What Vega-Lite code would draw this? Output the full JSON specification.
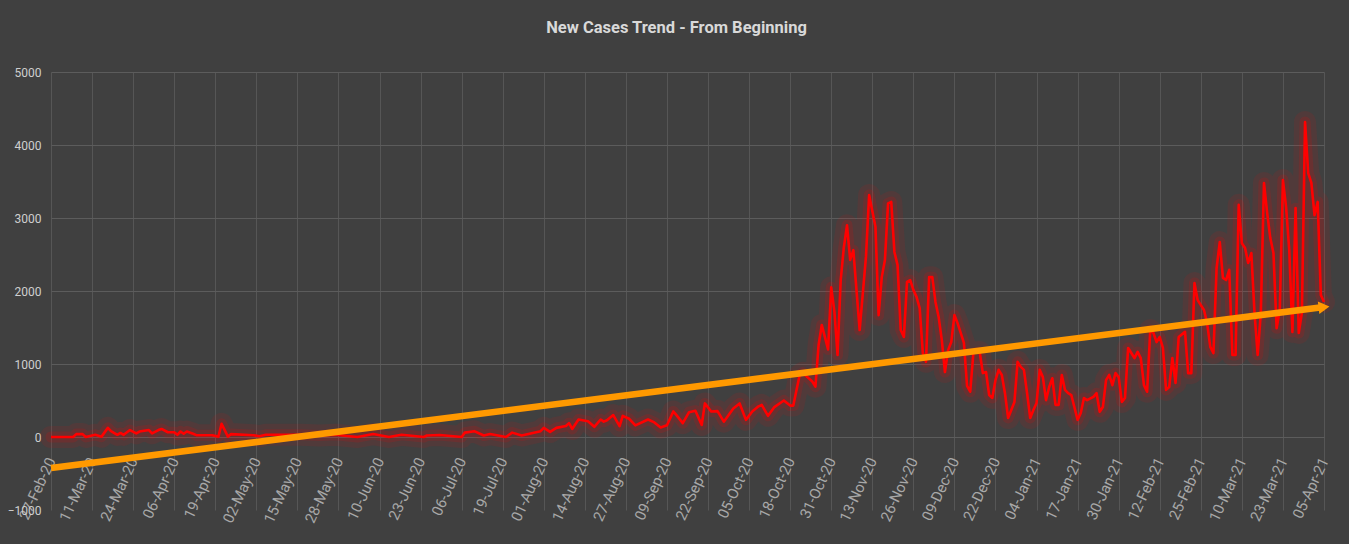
{
  "$schema": "https://vega.github.io/schema/vega-lite/v6.json",
  "width": 1273,
  "height": 438,
  "autosize": "none",
  "padding": {"left": 51, "top": 72, "right": 25, "bottom": 34},
  "background": "#404040",
  "config": {"view": {"stroke": null}},
  "title": {
    "text": "New Cases Trend - From Beginning",
    "font": "Roboto",
    "fontSize": 16.5,
    "fontWeight": "bold",
    "color": "#d9d9d9",
    "anchor": "middle",
    "frame": "group",
    "offset": 30,
    "dx": -11
  },
  "datasets": {
    "cases": [
      {"date": "2020/02/27", "value": 0},
      {"date": "2020/03/05", "value": 0},
      {"date": "2020/03/06", "value": 40},
      {"date": "2020/03/08", "value": 40},
      {"date": "2020/03/09", "value": 0},
      {"date": "2020/03/12", "value": 30},
      {"date": "2020/03/14", "value": 5},
      {"date": "2020/03/16", "value": 125},
      {"date": "2020/03/17", "value": 80},
      {"date": "2020/03/19", "value": 30},
      {"date": "2020/03/20", "value": 55},
      {"date": "2020/03/21", "value": 30},
      {"date": "2020/03/23", "value": 95},
      {"date": "2020/03/25", "value": 50},
      {"date": "2020/03/26", "value": 75},
      {"date": "2020/03/29", "value": 95},
      {"date": "2020/03/30", "value": 50},
      {"date": "2020/04/01", "value": 95},
      {"date": "2020/04/02", "value": 110},
      {"date": "2020/04/04", "value": 65},
      {"date": "2020/04/06", "value": 65},
      {"date": "2020/04/07", "value": 30},
      {"date": "2020/04/08", "value": 75},
      {"date": "2020/04/09", "value": 45},
      {"date": "2020/04/10", "value": 75},
      {"date": "2020/04/12", "value": 45},
      {"date": "2020/04/13", "value": 25},
      {"date": "2020/04/18", "value": 25},
      {"date": "2020/04/20", "value": 5},
      {"date": "2020/04/21", "value": 180},
      {"date": "2020/04/23", "value": 5},
      {"date": "2020/04/24", "value": 40},
      {"date": "2020/05/01", "value": 25},
      {"date": "2020/05/03", "value": 10},
      {"date": "2020/05/05", "value": 30},
      {"date": "2020/05/16", "value": 30},
      {"date": "2020/05/22", "value": 20},
      {"date": "2020/05/27", "value": 30},
      {"date": "2020/06/03", "value": 0},
      {"date": "2020/06/08", "value": 40},
      {"date": "2020/06/13", "value": 0},
      {"date": "2020/06/17", "value": 30},
      {"date": "2020/06/24", "value": 0},
      {"date": "2020/06/25", "value": 20},
      {"date": "2020/06/29", "value": 27},
      {"date": "2020/07/06", "value": 0},
      {"date": "2020/07/07", "value": 60},
      {"date": "2020/07/10", "value": 80},
      {"date": "2020/07/13", "value": 20},
      {"date": "2020/07/15", "value": 40},
      {"date": "2020/07/20", "value": 0},
      {"date": "2020/07/22", "value": 60},
      {"date": "2020/07/25", "value": 20},
      {"date": "2020/07/31", "value": 80},
      {"date": "2020/08/01", "value": 125},
      {"date": "2020/08/03", "value": 70},
      {"date": "2020/08/05", "value": 125},
      {"date": "2020/08/08", "value": 150},
      {"date": "2020/08/09", "value": 190},
      {"date": "2020/08/10", "value": 110},
      {"date": "2020/08/12", "value": 240},
      {"date": "2020/08/15", "value": 215},
      {"date": "2020/08/17", "value": 140},
      {"date": "2020/08/19", "value": 240},
      {"date": "2020/08/20", "value": 210},
      {"date": "2020/08/21", "value": 230},
      {"date": "2020/08/23", "value": 300},
      {"date": "2020/08/25", "value": 150},
      {"date": "2020/08/26", "value": 290},
      {"date": "2020/08/28", "value": 250},
      {"date": "2020/08/30", "value": 160},
      {"date": "2020/09/03", "value": 240},
      {"date": "2020/09/05", "value": 200},
      {"date": "2020/09/07", "value": 130},
      {"date": "2020/09/09", "value": 160},
      {"date": "2020/09/11", "value": 350},
      {"date": "2020/09/12", "value": 300},
      {"date": "2020/09/14", "value": 190},
      {"date": "2020/09/16", "value": 340},
      {"date": "2020/09/18", "value": 360},
      {"date": "2020/09/20", "value": 165},
      {"date": "2020/09/21", "value": 460},
      {"date": "2020/09/23", "value": 350},
      {"date": "2020/09/25", "value": 355},
      {"date": "2020/09/27", "value": 210},
      {"date": "2020/09/30", "value": 390},
      {"date": "2020/10/02", "value": 460},
      {"date": "2020/10/04", "value": 235},
      {"date": "2020/10/06", "value": 350},
      {"date": "2020/10/08", "value": 420},
      {"date": "2020/10/09", "value": 440},
      {"date": "2020/10/11", "value": 290},
      {"date": "2020/10/13", "value": 410},
      {"date": "2020/10/16", "value": 500},
      {"date": "2020/10/18", "value": 430},
      {"date": "2020/10/19", "value": 430},
      {"date": "2020/10/21", "value": 850},
      {"date": "2020/10/22", "value": 880},
      {"date": "2020/10/23", "value": 840},
      {"date": "2020/10/24", "value": 800},
      {"date": "2020/10/25", "value": 760},
      {"date": "2020/10/26", "value": 690},
      {"date": "2020/10/27", "value": 1260},
      {"date": "2020/10/28", "value": 1535},
      {"date": "2020/10/30", "value": 1200},
      {"date": "2020/10/31", "value": 2050},
      {"date": "2020/11/01", "value": 1720},
      {"date": "2020/11/02", "value": 1125},
      {"date": "2020/11/03", "value": 2150},
      {"date": "2020/11/04", "value": 2600},
      {"date": "2020/11/05", "value": 2900},
      {"date": "2020/11/06", "value": 2425},
      {"date": "2020/11/07", "value": 2560},
      {"date": "2020/11/09", "value": 1465},
      {"date": "2020/11/11", "value": 2470},
      {"date": "2020/11/12", "value": 3315},
      {"date": "2020/11/14", "value": 2880},
      {"date": "2020/11/15", "value": 1670},
      {"date": "2020/11/16", "value": 2190},
      {"date": "2020/11/17", "value": 2425},
      {"date": "2020/11/18", "value": 3200},
      {"date": "2020/11/19", "value": 3220},
      {"date": "2020/11/20", "value": 2535},
      {"date": "2020/11/21", "value": 2355},
      {"date": "2020/11/22", "value": 1465},
      {"date": "2020/11/23", "value": 1370},
      {"date": "2020/11/24", "value": 2125},
      {"date": "2020/11/25", "value": 2150},
      {"date": "2020/11/26", "value": 2015},
      {"date": "2020/11/27", "value": 1920},
      {"date": "2020/11/28", "value": 1765},
      {"date": "2020/11/29", "value": 1150},
      {"date": "2020/11/30", "value": 1030},
      {"date": "2020/12/01", "value": 2190},
      {"date": "2020/12/02", "value": 2190},
      {"date": "2020/12/03", "value": 1850},
      {"date": "2020/12/04", "value": 1645},
      {"date": "2020/12/05", "value": 1330},
      {"date": "2020/12/06", "value": 890},
      {"date": "2020/12/07", "value": 1190},
      {"date": "2020/12/08", "value": 1300},
      {"date": "2020/12/09", "value": 1670},
      {"date": "2020/12/10", "value": 1560},
      {"date": "2020/12/12", "value": 1290},
      {"date": "2020/12/13", "value": 700},
      {"date": "2020/12/14", "value": 620},
      {"date": "2020/12/15", "value": 1150},
      {"date": "2020/12/17", "value": 1165},
      {"date": "2020/12/18", "value": 875},
      {"date": "2020/12/19", "value": 890},
      {"date": "2020/12/20", "value": 575},
      {"date": "2020/12/21", "value": 535},
      {"date": "2020/12/22", "value": 780},
      {"date": "2020/12/23", "value": 920},
      {"date": "2020/12/24", "value": 850},
      {"date": "2020/12/25", "value": 600},
      {"date": "2020/12/26", "value": 260},
      {"date": "2020/12/27", "value": 370},
      {"date": "2020/12/28", "value": 480},
      {"date": "2020/12/29", "value": 1030},
      {"date": "2020/12/30", "value": 960},
      {"date": "2020/12/31", "value": 920},
      {"date": "2021/01/01", "value": 600},
      {"date": "2021/01/02", "value": 260},
      {"date": "2021/01/03", "value": 370},
      {"date": "2021/01/04", "value": 465},
      {"date": "2021/01/05", "value": 920},
      {"date": "2021/01/06", "value": 820},
      {"date": "2021/01/07", "value": 505},
      {"date": "2021/01/08", "value": 685},
      {"date": "2021/01/09", "value": 805},
      {"date": "2021/01/10", "value": 440},
      {"date": "2021/01/11", "value": 440},
      {"date": "2021/01/12", "value": 850},
      {"date": "2021/01/13", "value": 645},
      {"date": "2021/01/14", "value": 600},
      {"date": "2021/01/15", "value": 575},
      {"date": "2021/01/17", "value": 235},
      {"date": "2021/01/18", "value": 330},
      {"date": "2021/01/19", "value": 535},
      {"date": "2021/01/20", "value": 505},
      {"date": "2021/01/22", "value": 550},
      {"date": "2021/01/23", "value": 600},
      {"date": "2021/01/24", "value": 345},
      {"date": "2021/01/25", "value": 410},
      {"date": "2021/01/26", "value": 780},
      {"date": "2021/01/27", "value": 850},
      {"date": "2021/01/28", "value": 710},
      {"date": "2021/01/29", "value": 875},
      {"date": "2021/01/30", "value": 820},
      {"date": "2021/01/31", "value": 480},
      {"date": "2021/02/01", "value": 535},
      {"date": "2021/02/02", "value": 1220},
      {"date": "2021/02/03", "value": 1150},
      {"date": "2021/02/04", "value": 1080},
      {"date": "2021/02/05", "value": 1165},
      {"date": "2021/02/06", "value": 1080},
      {"date": "2021/02/07", "value": 710},
      {"date": "2021/02/08", "value": 620},
      {"date": "2021/02/09", "value": 1465},
      {"date": "2021/02/10", "value": 1425},
      {"date": "2021/02/11", "value": 1300},
      {"date": "2021/02/12", "value": 1370},
      {"date": "2021/02/13", "value": 1220},
      {"date": "2021/02/14", "value": 645},
      {"date": "2021/02/15", "value": 685},
      {"date": "2021/02/16", "value": 1080},
      {"date": "2021/02/17", "value": 740},
      {"date": "2021/02/18", "value": 1370},
      {"date": "2021/02/20", "value": 1440},
      {"date": "2021/02/21", "value": 875},
      {"date": "2021/02/22", "value": 875},
      {"date": "2021/02/23", "value": 2110},
      {"date": "2021/02/24", "value": 1875},
      {"date": "2021/02/26", "value": 1740},
      {"date": "2021/02/27", "value": 1560},
      {"date": "2021/02/28", "value": 1235},
      {"date": "2021/03/01", "value": 1150},
      {"date": "2021/03/02", "value": 2315},
      {"date": "2021/03/03", "value": 2670},
      {"date": "2021/03/04", "value": 2180},
      {"date": "2021/03/05", "value": 2150},
      {"date": "2021/03/06", "value": 2290},
      {"date": "2021/03/07", "value": 1125},
      {"date": "2021/03/08", "value": 1125},
      {"date": "2021/03/09", "value": 3180},
      {"date": "2021/03/10", "value": 2655},
      {"date": "2021/03/11", "value": 2590},
      {"date": "2021/03/12", "value": 2385},
      {"date": "2021/03/13", "value": 2520},
      {"date": "2021/03/14", "value": 1700},
      {"date": "2021/03/15", "value": 1125},
      {"date": "2021/03/16", "value": 1700},
      {"date": "2021/03/17", "value": 3480},
      {"date": "2021/03/18", "value": 3070},
      {"date": "2021/03/19", "value": 2725},
      {"date": "2021/03/20", "value": 2520},
      {"date": "2021/03/21", "value": 1490},
      {"date": "2021/03/22", "value": 1740},
      {"date": "2021/03/23", "value": 3520},
      {"date": "2021/03/24", "value": 3150},
      {"date": "2021/03/25", "value": 2560},
      {"date": "2021/03/26", "value": 1440},
      {"date": "2021/03/27", "value": 3135},
      {"date": "2021/03/28", "value": 1425},
      {"date": "2021/03/29", "value": 1700},
      {"date": "2021/03/30", "value": 4315},
      {"date": "2021/03/31", "value": 3615},
      {"date": "2021/04/01", "value": 3480},
      {"date": "2021/04/02", "value": 3040},
      {"date": "2021/04/03", "value": 3220},
      {"date": "2021/04/04", "value": 1945},
      {"date": "2021/04/05", "value": 1850}
    ],
    "trend": [
      {"date": "2020/02/27", "value": -425, "end": false},
      {"date": "2021/04/05", "value": 1780, "end": true}
    ]
  },
  "encoding": {
    "x": {
      "field": "date",
      "type": "temporal",
      "scale": {
        "domain": [
          {"year": 2020, "month": "feb", "date": 27},
          {"year": 2021, "month": "apr", "date": 5}
        ],
        "nice": false
      },
      "axis": {
        "title": null,
        "values": [
          {"year": 2020, "month": "feb", "date": 27},
          {"year": 2020, "month": "mar", "date": 11},
          {"year": 2020, "month": "mar", "date": 24},
          {"year": 2020, "month": "apr", "date": 6},
          {"year": 2020, "month": "apr", "date": 19},
          {"year": 2020, "month": "may", "date": 2},
          {"year": 2020, "month": "may", "date": 15},
          {"year": 2020, "month": "may", "date": 28},
          {"year": 2020, "month": "jun", "date": 10},
          {"year": 2020, "month": "jun", "date": 23},
          {"year": 2020, "month": "jul", "date": 6},
          {"year": 2020, "month": "jul", "date": 19},
          {"year": 2020, "month": "aug", "date": 1},
          {"year": 2020, "month": "aug", "date": 14},
          {"year": 2020, "month": "aug", "date": 27},
          {"year": 2020, "month": "sep", "date": 9},
          {"year": 2020, "month": "sep", "date": 22},
          {"year": 2020, "month": "oct", "date": 5},
          {"year": 2020, "month": "oct", "date": 18},
          {"year": 2020, "month": "oct", "date": 31},
          {"year": 2020, "month": "nov", "date": 13},
          {"year": 2020, "month": "nov", "date": 26},
          {"year": 2020, "month": "dec", "date": 9},
          {"year": 2020, "month": "dec", "date": 22},
          {"year": 2021, "month": "jan", "date": 4},
          {"year": 2021, "month": "jan", "date": 17},
          {"year": 2021, "month": "jan", "date": 30},
          {"year": 2021, "month": "feb", "date": 12},
          {"year": 2021, "month": "feb", "date": 25},
          {"year": 2021, "month": "mar", "date": 10},
          {"year": 2021, "month": "mar", "date": 23},
          {"year": 2021, "month": "apr", "date": 5}
        ],
        "format": "%d-%b-%y",
        "labelAngle": -65,
        "labelAlign": "right",
        "labelBaseline": "middle",
        "labelFont": "Roboto",
        "labelFontSize": 15,
        "labelColor": "#a8a8a8",
        "labelOverlap": false,
        "labelFlush": false,
        "labelBound": false,
        "ticks": false,
        "tickSize": 0,
        "domain": false,
        "offset": -54,
        "labelPadding": 2,
        "grid": true,
        "gridColor": "#565656",
        "gridWidth": 1
      }
    },
    "y": {
      "field": "value",
      "type": "quantitative",
      "scale": {"domain": [-1000, 5000], "nice": false},
      "axis": {
        "title": null,
        "values": [-1000, 0, 1000, 2000, 3000, 4000, 5000],
        "format": "d",
        "labelFont": "Roboto",
        "labelFontSize": 12,
        "labelColor": "#cfcfcf",
        "ticks": false,
        "domain": false,
        "labelPadding": 10,
        "grid": true,
        "gridColor": "#5c5c5c",
        "gridWidth": 1.2,
        "gridOpacity": {"condition": {"test": "datum.value === -1000", "value": 0}, "value": 1}
      }
    }
  },
  "layer": [
    {
      "data": {"name": "cases"},
      "mark": {"type": "line", "color": "#ff0000", "strokeWidth": 22, "opacity": 0.09, "strokeJoin": "round", "strokeCap": "round"}
    },
    {
      "data": {"name": "cases"},
      "mark": {"type": "line", "color": "#ff0000", "strokeWidth": 11, "opacity": 0.14, "strokeJoin": "round", "strokeCap": "round"}
    },
    {
      "data": {"name": "cases"},
      "mark": {"type": "line", "color": "#ff0000", "strokeWidth": 2.6, "strokeJoin": "round"}
    },
    {
      "data": {"name": "trend"},
      "mark": {"type": "line", "color": "#ff9900", "strokeWidth": 6.5}
    },
    {
      "data": {"name": "trend"},
      "transform": [{"filter": "datum.end"}],
      "mark": {"type": "point", "shape": "triangle-right", "filled": true, "size": 160, "color": "#ff9900", "opacity": 1, "angle": -7}
    }
  ]
}
